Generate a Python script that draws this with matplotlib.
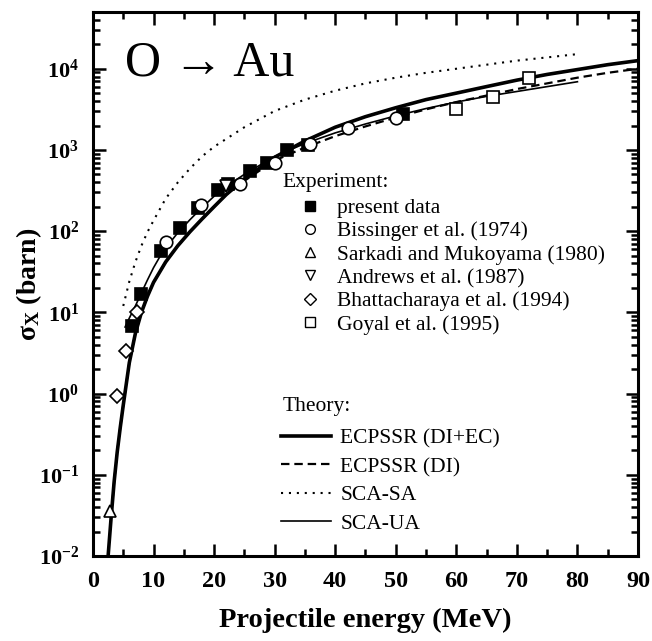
import math
import matplotlib
matplotlib.use("Agg")
import matplotlib.pyplot as plt
from matplotlib.ticker import FixedLocator, FuncFormatter, NullFormatter
from matplotlib.lines import Line2D

plt.rcParams['font.family'] = ['Liberation Serif', 'DejaVu Serif']
plt.rcParams['mathtext.fontset'] = 'custom'
plt.rcParams['mathtext.rm'] = 'Liberation Serif'
plt.rcParams['mathtext.it'] = 'Liberation Serif:italic'
plt.rcParams['mathtext.bf'] = 'Liberation Serif:bold'

# ---------------- data ----------------
# Theory curves (energy in MeV, cross section in barn)
E_ecpssr_diec = [2.5, 3.0, 3.5, 4.0, 4.5, 5.0, 6.0, 7.0, 8.0, 9.0, 10, 12, 14, 16, 18, 20, 22, 25,
                 30, 35, 40, 45, 50, 55, 60, 65, 70, 75, 80, 85, 90]
s_ecpssr_diec = [0.010, 0.030, 0.083, 0.19, 0.38, 0.72, 2.4, 5.5, 10.0, 15.8, 23.4, 41.7, 66, 98, 141,
                 200, 282, 437, 813, 1290, 1905, 2570, 3310, 4170, 5010, 6030, 7240, 8510, 9770,
                 11220, 12590]

E_ecpssr_di = [2.5, 3.0, 3.5, 4.0, 4.5, 5.0, 6.0, 7.0, 8.0, 9.0, 10, 12, 14, 16, 18, 20, 22, 25,
               30, 35, 40, 45, 50, 55, 60, 65, 70, 75, 80, 85, 90]
s_ecpssr_di = [0.010, 0.030, 0.083, 0.19, 0.38, 0.72, 2.4, 5.5, 10.0, 15.8, 23.4, 41.7, 66, 98, 141,
               200, 282, 417, 741, 1072, 1479, 1950, 2512, 3162, 3890, 4677, 5623, 6607, 7762,
               8913, 10000]

E_sca_sa = [5, 6, 7, 8, 9, 10, 12, 14, 16, 18, 20, 25, 30, 35, 40, 45, 50, 55, 60, 65, 70, 75, 80]
s_sca_sa = [12.0, 24.0, 41.7, 66.1, 97.7, 135, 251, 398, 589, 832, 1096, 1905, 3020, 4169, 5370,
            6607, 7762, 8913, 10000, 11220, 12590, 13800, 15140]

E_sca_ua = [5.3, 6, 7, 8, 9, 10, 11, 12, 14, 16, 18, 20, 22, 25, 30, 35, 40, 45, 50, 55, 60, 65,
            70, 75, 80]
s_sca_ua = [6.6, 8.5, 12.0, 17.4, 25.1, 35.5, 47.9, 61.7, 95.5, 138, 195, 269, 355, 501, 832, 1202,
            1622, 2089, 2630, 3236, 3890, 4571, 5248, 6026, 6918]

# Experimental data
E_present = [6.4, 7.9, 11.2, 14.4, 17.3, 20.7, 22.3, 25.9, 28.7, 32.0, 35.5, 51.2]
s_present = [6.8, 16.7, 57, 110, 195, 325, 380, 555, 690, 1000, 1150, 2800]

E_bissinger = [12.0, 17.9, 24.2, 30.0, 35.9, 42.1, 50.0]
s_bissinger = [74, 210, 380, 690, 1180, 1860, 2450]

E_sarkadi = [2.8]
s_sarkadi = [0.036]

E_andrews = [22.0]
s_andrews = [360]

E_bhatt = [3.9, 5.4, 7.2]
s_bhatt = [0.93, 3.3, 10.2]

E_goyal = [60.0, 66.0, 72.0]
s_goyal = [3200, 4450, 7600]

exp_labels = ["present data", "Bissinger et al. (1974)", "Sarkadi and Mukoyama (1980)",
              "Andrews et al. (1987)", "Bhattacharaya et al. (1994)", "Goyal et al. (1995)"]
theory_labels = ["ECPSSR (DI+EC)", "ECPSSR (DI)", "SCA-SA", "SCA-UA"]

x_major = [0, 10, 20, 30, 40, 50, 60, 70, 80, 90]
x_minor = [5, 15, 25, 35, 45, 55, 65, 75, 85]
y_major = [1e-2, 1e-1, 1e0, 1e1, 1e2, 1e3, 1e4]

# ---------------- figure ----------------
fig = plt.figure(figsize=(6.52, 6.41), dpi=100)
ax = fig.add_axes([0.1426, 0.1326, 0.8359, 0.8487])
ax.set_yscale('log')
ax.set_xlim(0, 90)
ax.set_ylim(1e-2, 5e4)

# theory lines
l1, = ax.plot(E_ecpssr_diec, s_ecpssr_diec, color='black', lw=2.6, ls='-', zorder=3)
l2, = ax.plot(E_ecpssr_di, s_ecpssr_di, color='black', lw=1.6, ls=(0, (3.8, 2.2)), zorder=3)
l3, = ax.plot(E_sca_sa, s_sca_sa, color='black', lw=1.5, ls=(0, (1, 2.8)), zorder=3)
l4, = ax.plot(E_sca_ua, s_sca_ua, color='black', lw=1.2, ls='-', zorder=3)

# experimental markers
mk = dict(ls='none', color='black', markeredgewidth=1.2, zorder=4)
h1, = ax.plot(E_present, s_present, marker='s', ms=8, markerfacecolor='black', **mk)
h2, = ax.plot(E_bissinger, s_bissinger, marker='o', ms=9, markerfacecolor='white', **mk)
h3, = ax.plot(E_sarkadi, s_sarkadi, marker='^', ms=9, markerfacecolor='white', **mk)
h4, = ax.plot(E_andrews, s_andrews, marker='v', ms=9, markerfacecolor='white', **mk)
h5, = ax.plot(E_bhatt, s_bhatt, marker='D', ms=7.5, markerfacecolor='white', **mk)
h6, = ax.plot(E_goyal, s_goyal, marker='s', ms=8.5, markerfacecolor='white', **mk)

# legend handles (smaller markers as in reference)
lh = [Line2D([], [], ls='none', marker='s', ms=7, color='black', mfc='black', mew=1.0),
      Line2D([], [], ls='none', marker='o', ms=7, color='black', mfc='white', mew=1.0),
      Line2D([], [], ls='none', marker='^', ms=7, color='black', mfc='white', mew=1.0),
      Line2D([], [], ls='none', marker='v', ms=7, color='black', mfc='white', mew=1.0),
      Line2D([], [], ls='none', marker='D', ms=6, color='black', mfc='white', mew=1.0),
      Line2D([], [], ls='none', marker='s', ms=7, color='black', mfc='white', mew=1.0)]

FS = 15.5
leg1 = ax.legend(lh, exp_labels, loc='upper left', bbox_to_anchor=(0.3785, 0.658),
                 frameon=False, fontsize=FS, handlelength=1.0, handletextpad=0.75,
                 labelspacing=0.15, borderpad=0, borderaxespad=0)
ax.add_artist(leg1)
leg2 = ax.legend([l1, l2, l3, l4], theory_labels, loc='upper left', bbox_to_anchor=(0.345, 0.234),
                 frameon=False, fontsize=FS, handlelength=2.33, handletextpad=0.42,
                 labelspacing=0.38, borderpad=0, borderaxespad=0)

ax.text(0.348, 0.686, "Experiment:", transform=ax.transAxes, fontsize=FS, ha='left', va='center')
ax.text(0.348, 0.274, "Theory:", transform=ax.transAxes, fontsize=FS, ha='left', va='center')

ax.text(0.058, 0.884, "O \u2192 Au", transform=ax.transAxes, fontsize=36,
        ha='left', va='baseline', family=['Liberation Serif', 'DejaVu Serif'])

# ticks (fixed, only inside the view)
ax.xaxis.set_major_locator(FixedLocator(x_major))
ax.xaxis.set_minor_locator(FixedLocator(x_minor))
ax.yaxis.set_major_locator(FixedLocator(y_major))
y_minor = [m * d for d in y_major for m in range(2, 10) if m * d <= 5e4]
ax.yaxis.set_minor_locator(FixedLocator(y_minor))
ax.yaxis.set_minor_formatter(NullFormatter())
ax.xaxis.set_minor_formatter(NullFormatter())
ax.yaxis.set_major_formatter(FuncFormatter(lambda v, p: r'$\mathbf{10^{%d}}$' % round(math.log10(v))))
ax.tick_params(which='both', direction='in', top=True, right=True, width=1.8)
ax.tick_params(which='major', length=9)
ax.tick_params(which='minor', length=5)
ax.tick_params(axis='x', which='major', labelsize=17.5, pad=11)
ax.tick_params(axis='y', which='major', labelsize=16, pad=10)
for lab in ax.get_xticklabels():
    lab.set_fontweight('bold')
for sp in ax.spines.values():
    sp.set_linewidth(2.2)

ax.set_xlabel("Projectile energy (MeV)", fontsize=20.5, fontweight='bold')
ax.set_ylabel(r"$\mathbf{\sigma_X}$ (barn)", fontsize=20, fontweight='bold')
ax.xaxis.set_label_coords(0.5, -0.096)
ax.yaxis.set_label_coords(-0.09, 0.5)

fig.savefig("out.png", dpi=100)
